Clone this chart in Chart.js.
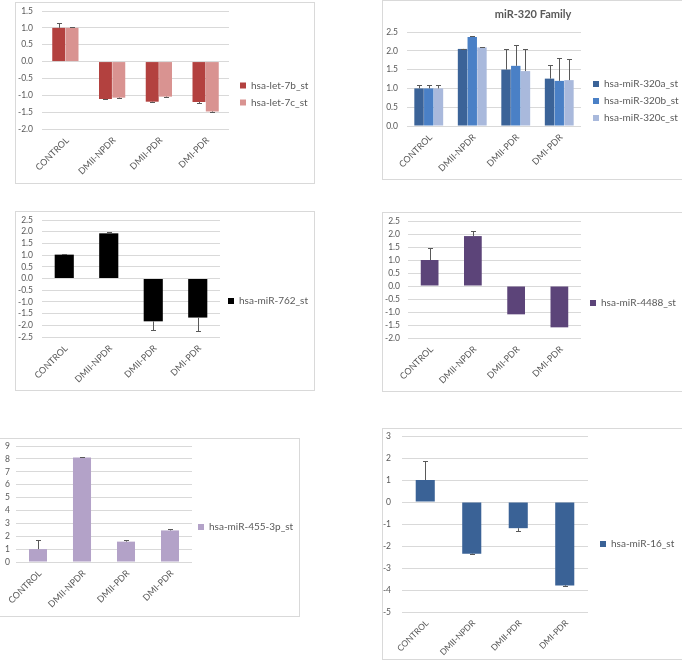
<!DOCTYPE html>
<html>
<head>
<meta charset="utf-8">
<script src="https://cdn.jsdelivr.net/npm/chart.js@4.4.0/dist/chart.umd.min.js"></script>
<style>
    body { margin: 0; background: #fff; width: 682px; height: 661px; position: relative; overflow: hidden; }
    .panel { position: absolute; box-sizing: border-box; border: 1px solid #d9d9d9; background: #fff; }
    .panel canvas { position: absolute; left: 0; top: 0; }
</style>
</head>
<body>
<div class="panel" style="left:15px; top:2px; width:300px; height:182px;"><canvas id="c1" width="298" height="180"></canvas></div>
<div class="panel" style="left:382px; top:0px; width:302px; height:180px;"><canvas id="c2" width="300" height="178"></canvas></div>
<div class="panel" style="left:15px; top:211px; width:300px; height:180px;"><canvas id="c3" width="298" height="178"></canvas></div>
<div class="panel" style="left:382px; top:212px; width:302px; height:180px;"><canvas id="c4" width="300" height="178"></canvas></div>
<div class="panel" style="left:-2px; top:438px; width:302px; height:179px;"><canvas id="c5" width="300" height="177"></canvas></div>
<div class="panel" style="left:382px; top:428px; width:302px; height:232px;"><canvas id="c6" width="300" height="230"></canvas></div>
<script>
// Chart data
const categories = ['CONTROL', 'DMII-NPDR', 'DMII-PDR', 'DMI-PDR'];

const let7b = [1.0, -1.11, -1.19, -1.2];
const let7bErr = [0.14, 0.01, 0.01, 0.02];
const let7c = [1.0, -1.07, -1.04, -1.48];
const let7cErr = [0.03, 0.01, 0.01, 0.01];

const mir320a = [1.0, 2.05, 1.5, 1.26];
const mir320aErr = [0.1, 0.01, 0.56, 0.37];
const mir320b = [1.0, 2.37, 1.6, 1.2];
const mir320bErr = [0.1, 0.02, 0.56, 0.62];
const mir320c = [1.0, 2.09, 1.46, 1.22];
const mir320cErr = [0.1, 0.01, 0.59, 0.55];

const mir762 = [1.02, 1.93, -1.83, -1.67];
const mir762Err = [0.02, 0.05, 0.36, 0.57];

const mir4488 = [1.0, 1.92, -1.09, -1.59];
const mir4488Err = [0.46, 0.2, 0, 0];

const mir455 = [1.0, 8.1, 1.58, 2.45];
const mir455Err = [0.68, 0.02, 0.1, 0.12];

const mir16 = [1.0, -2.35, -1.19, -3.79];
const mir16Err = [0.88, 0.02, 0.15, 0.03];

// y axis ranges: [min, max, step]
const range1 = [-2, 1.5, 0.5];
const range2 = [0, 2.5, 0.5];
const range3 = [-2.5, 2.5, 0.5];
const range4 = [-2, 2.5, 0.5];
const range5 = [0, 9, 1];
const range6 = [-5, 3, 1];

const FONT = 'Lato, "Open Sans", sans-serif';
const TEXT = '#595959';
const LEG_PAD = 7, LEG_BOX = 6, LEG_FONT = 10;

// draws one-sided error bars away from zero
const errorBars = {
    id: 'errorBars',
    afterDatasetsDraw(chart) {
        const ctx = chart.ctx;
        const yScale = chart.scales.y;
        chart.data.datasets.forEach((ds, i) => {
            if (!ds.errors) return;
            const meta = chart.getDatasetMeta(i);
            meta.data.forEach((bar, j) => {
                const v = ds.data[j];
                const e = ds.errors[j];
                if (!e) return;
                const end = v >= 0 ? v + e : v - e;
                const y0 = yScale.getPixelForValue(v);
                const y1 = Math.round(yScale.getPixelForValue(end)) + 0.5;
                const x = Math.round(bar.x) + 0.5;
                ctx.save();
                ctx.strokeStyle = '#595959';
                ctx.lineWidth = 1;
                ctx.beginPath();
                ctx.moveTo(x, y0);
                ctx.lineTo(x, y1);
                ctx.moveTo(x - 2.5, y1);
                ctx.lineTo(x + 2.5, y1);
                ctx.stroke();
                ctx.restore();
            });
        });
    }
};

// fixes the legend width and moves it where the Excel legend sits
const legendPlace = {
    id: 'legendPlace',
    beforeLayout(chart, args, opts) {
        const lg = chart.legend;
        if (lg && !lg._wrapped) {
            const w = opts.width;
            const fit = lg.fit.bind(lg);
            lg.fit = function () { fit(); this.width = w; };
            lg._wrapped = true;
        }
    },
    afterLayout(chart, args, opts) {
        const lg = chart.legend;
        const left = opts.textX - LEG_PAD - LEG_BOX - LEG_FONT / 2;
        const h = lg.height;
        lg.left = left;
        lg.right = left + lg.width;
        lg.top = opts.cy - h / 2;
        lg.bottom = opts.cy + h / 2;
    }
};

function makePanel(id, opts) {
    const canvas = document.getElementById(id);
    const W = canvas.width, H = canvas.height;
    const [L, T, R, B] = opts.area;
    const [min, max, step] = opts.range;
    const titleH = opts.title ? 7 + 11 * 1.2 + 10.8 : 0;
    return new Chart(canvas.getContext('2d'), {
        type: 'bar',
        data: {
            labels: categories,
            datasets: opts.series.map(s => ({
                label: s.label,
                data: s.data,
                errors: s.errors,
                backgroundColor: s.color,
                borderWidth: 0,
                barPercentage: opts.barPct,
                categoryPercentage: opts.catPct
            }))
        },
        options: {
            responsive: false,
            animation: false,
            devicePixelRatio: 1,
            layout: { padding: { left: 0, top: T - titleH, right: 0, bottom: 0 } },
            plugins: {
                title: {
                    display: !!opts.title,
                    text: opts.title || '',
                    color: TEXT,
                    font: { family: FONT, size: 11, weight: 'bold' },
                    padding: { top: 7, bottom: 10.8 }
                },
                legend: {
                    position: 'right',
                    labels: {
                        boxWidth: LEG_BOX,
                        boxHeight: LEG_BOX,
                        color: TEXT,
                        padding: LEG_PAD,
                        font: { family: FONT, size: LEG_FONT }
                    }
                },
                legendPlace: { width: W - R, textX: opts.legendX, cy: opts.legendY },
                tooltip: { enabled: false }
            },
            scales: {
                x: {
                    grid: { display: false, drawTicks: false },
                    border: { display: false },
                    ticks: {
                        color: TEXT,
                        minRotation: 45,
                        maxRotation: 45,
                        padding: 6,
                        labelOffset: 2,
                        autoSkip: false,
                        font: { family: FONT, size: opts.xFont || 9 }
                    },
                    afterFit(scale) {
                        scale.height = H - B;
                        scale.paddingLeft = 0;
                        scale.paddingRight = 0;
                    }
                },
                y: {
                    min: min,
                    max: max,
                    grid: { color: '#d9d9d9', drawTicks: false },
                    border: { display: false },
                    ticks: {
                        stepSize: step,
                        autoSkip: false,
                        color: TEXT,
                        padding: opts.yPad,
                        font: { family: FONT, size: 8.5 },
                        callback: v => opts.decimals ? v.toFixed(1) : v
                    },
                    afterFit(scale) {
                        scale.width = L;
                        scale.paddingTop = 0;
                        scale.paddingBottom = 0;
                    }
                }
            }
        },
        plugins: [errorBars, legendPlace]
    });
}

makePanel('c1', {
    range: range1, decimals: true, area: [26, 8, 213, 126], yPad: 9,
    legendX: 235, legendY: 91,
    barPct: 0.97, catPct: 0.57,
    series: [
        { label: 'hsa-let-7b_st', data: let7b, errors: let7bErr, color: '#B3413F' },
        { label: 'hsa-let-7c_st', data: let7c, errors: let7cErr, color: '#D99391' }
    ]
});

makePanel('c2', {
    range: range2, decimals: true, area: [24, 31, 198, 125], yPad: 9,
    legendX: 221, legendY: 100, title: 'miR-320 Family',
    barPct: 0.97, catPct: 0.67,
    series: [
        { label: 'hsa-miR-320a_st', data: mir320a, errors: mir320aErr, color: '#3B6398' },
        { label: 'hsa-miR-320b_st', data: mir320b, errors: mir320bErr, color: '#4A80C6' },
        { label: 'hsa-miR-320c_st', data: mir320c, errors: mir320cErr, color: '#A9B9DC' }
    ]
});

makePanel('c3', {
    range: range3, decimals: true, area: [26, 8, 204, 125], yPad: 9,
    legendX: 223, legendY: 89,
    barPct: 1, catPct: 0.43,
    series: [
        { label: 'hsa-miR-762_st', data: mir762, errors: mir762Err, color: '#000000' }
    ]
});

makePanel('c4', {
    range: range4, decimals: true, area: [25, 8, 198, 125], yPad: 8,
    legendX: 218, legendY: 90,
    barPct: 1, catPct: 0.41,
    series: [
        { label: 'hsa-miR-4488_st', data: mir4488, errors: mir4488Err, color: '#5C4479' }
    ]
});

makePanel('c5', {
    range: range5, decimals: false, area: [17, 7, 193, 123], yPad: 6,
    legendX: 210, legendY: 88,
    barPct: 1, catPct: 0.41,
    series: [
        { label: 'hsa-miR-455-3p_st', data: mir455, errors: mir455Err, color: '#B3A2C8' }
    ]
});

makePanel('c6', {
    range: range6, decimals: false, area: [19, 7, 205, 183], yPad: 11, xFont: 8.5,
    legendX: 228, legendY: 115,
    barPct: 1, catPct: 0.41,
    series: [
        { label: 'hsa-miR-16_st', data: mir16, errors: mir16Err, color: '#3A6296' }
    ]
});
</script>
</body>
</html>
